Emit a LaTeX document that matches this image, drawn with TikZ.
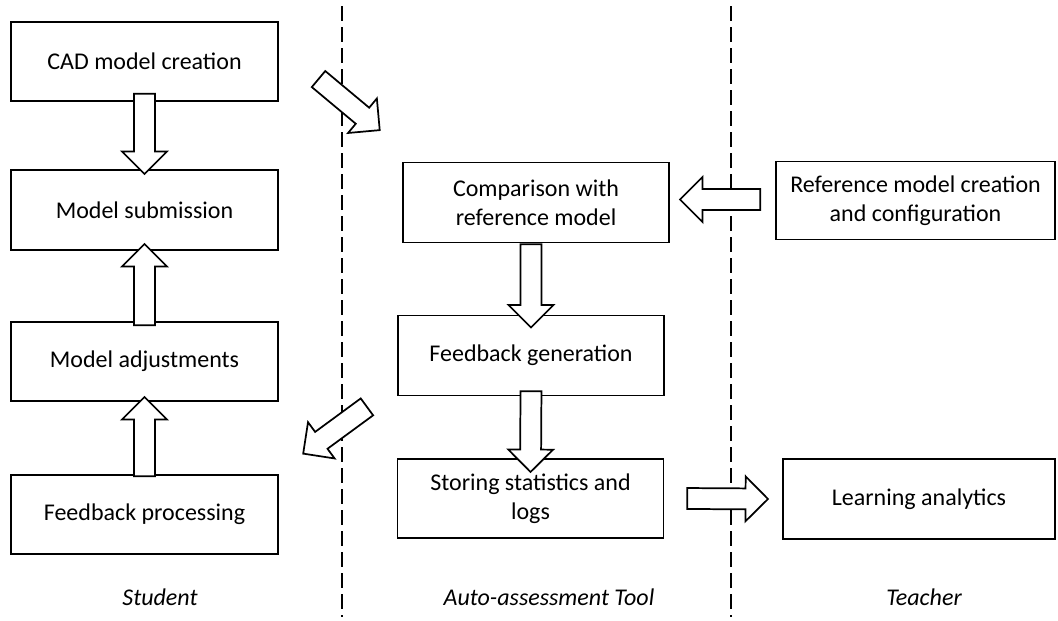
\documentclass[tikz,border=0pt]{standalone}
\usepackage{fontspec}
\setmainfont{Carlito}
\usetikzlibrary{calc,shapes.arrows}

% hollow block arrow from tail point to tip point
\newcommand{\blockarrow}[2]{%
  \path let \p1=#1, \p2=#2, \n1={atan2(\y2-\y1,\x2-\x1)}, \n2={veclen(\x2-\x1,\y2-\y1)} in
    node[bigarrow, minimum height=\n2, rotate=\n1, anchor=tail] at (\p1) {};}

\begin{document}
\begin{tikzpicture}[x=0.75pt, y=-0.75pt,
  box/.style={draw=black, line width=1.3pt, align=center, inner sep=2pt,
    font=\fontsize{18}{22}\selectfont},
  lane/.style={font=\fontsize{18}{22}\selectfont\itshape},
  bigarrow/.style={single arrow, draw=black, fill=white, line width=1.3pt,
    inner xsep=0pt, inner ysep=7.2pt, minimum width=0pt,
    single arrow head extend=9pt, single arrow tip angle=90},
  sep/.style={line width=1.2pt, dash pattern=on 11.25pt off 4.5pt}]
\useasboundingbox (0,0) rectangle (1058,621);

% lane separators
\coordinate (s1a) at (342,6);
\coordinate (s1b) at (342,617);
\coordinate (s2a) at (731,6);
\coordinate (s2b) at (731,617);
\draw[sep] (s1a) -- (s1b);
\draw[sep] (s2a) -- (s2b);

% student
\node[box, minimum width=200.25pt, minimum height=59.25pt] (cad) at (144.5,61.5) {CAD model creation};
\node[box, minimum width=200.25pt, minimum height=60pt] (sub) at (144.5,210) {Model submission};
\node[box, minimum width=200.25pt, minimum height=59.25pt] (adj) at (144.5,361.5) {Model adjustments};
\node[box, minimum width=200.25pt, minimum height=59.25pt] (fp) at (144.5,514.5) {Feedback processing};

% tool
\node[box, minimum width=199.5pt, minimum height=60pt] (cmp) at (536,202.5) {Comparison with\\reference model};
\node[box, minimum width=199.5pt, minimum height=60pt] (fbg) at (531,355.5) {Feedback generation};
\node[box, minimum width=199.5pt, minimum height=59.25pt] (sto) at (530.5,498.5) {Storing statistics and\\logs};

% teacher
\node[box, minimum width=209.25pt, minimum height=58.5pt] (ref) at (915.5,200.5) {Reference model creation\\and configuration};
\node[box, minimum width=204pt, minimum height=60pt] (la) at (919,499) {Learning analytics};

\node[lane] (stu) at (160,597) {Student};
\node[lane] (aat) at (549,597) {Auto-assessment Tool};
\node[lane] (tea) at (924,597) {Teacher};

% block arrows
\blockarrow{($(cad.south)+(0,-9)$)}{($(sub.north)+(0,4)$)}
\blockarrow{($(adj.north)+(0,5)$)}{($(sub.south)+(0,-6)$)}
\blockarrow{($(fp.north)+(0,3)$)}{($(adj.south)+(0,-4)$)}
\blockarrow{($(cad.east)+(39,17)$)}{($(cmp.north west)+(-23,-32)$)}
\blockarrow{(fbg.north |- cmp.south)}{($(fbg.north)+(0,12)$)}
\blockarrow{($(fbg.south)+(0,-6)$)}{($(sto.north)+(0,13)$)}
\blockarrow{($(ref.west)+(-14,-1)$)}{($(cmp.east |- ref.west)+(11,-1)$)}
\blockarrow{($(fbg.south west)+(-29.5,10)$)}{($(fp.north east)+(25,-21)$)}
\blockarrow{($(sto.east)+(22,0)$)}{($(la.west)+(-15,0)$)}
\end{tikzpicture}
\end{document}
